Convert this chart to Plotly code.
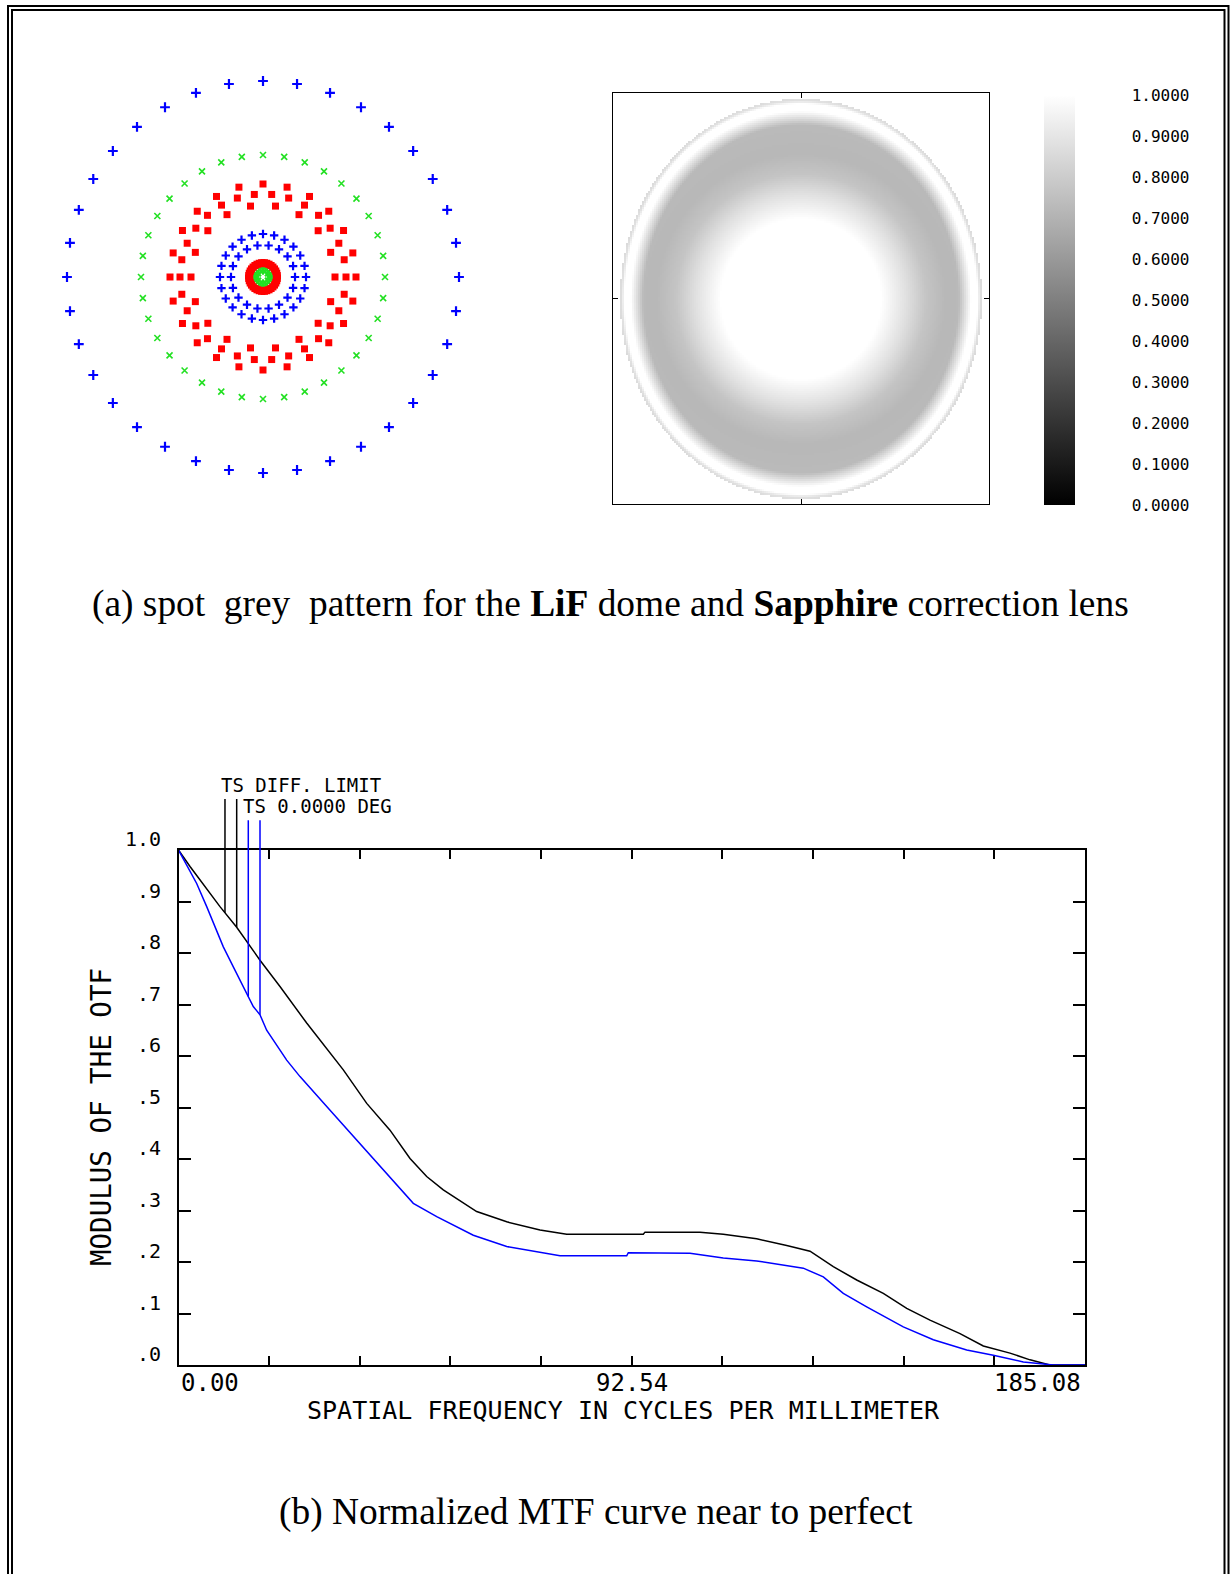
import numpy as np
import plotly.graph_objects as go

W, H = 1230, 1574


def px(x):
    return x / W


def py(y):
    return 1 - y / H


# ---------------- MTF data ----------------
freq_diff = [0, 2.35, 8.47, 11.88, 16.64, 20.72, 26.17, 31.54, 33.65, 38.43, 43.18, 47.27,
             50.67, 54.06, 60.88, 67.01, 73.81, 79.26, 94.90, 95.25, 106.47, 111.23, 118.05,
             124.18, 128.94, 133.69, 138.47, 143.90, 148.68, 153.43, 159.56, 164.32, 169.77,
             173.85, 177.9, 185.08]
mtf_diff = [1.0, 0.968, 0.890, 0.850, 0.786, 0.735, 0.664, 0.598, 0.573, 0.508, 0.456, 0.401,
            0.366, 0.340, 0.298, 0.278, 0.262, 0.254, 0.254, 0.258, 0.258, 0.254, 0.245,
            0.232, 0.221, 0.191, 0.165, 0.139, 0.110, 0.087, 0.061, 0.037, 0.023,
            0.010, 0.0, 0.0]

freq_ts0 = [0, 3.71, 5.76, 9.15, 11.19, 13.92, 15.27, 16.64, 18.0, 22.09, 24.81, 30.26, 37.06,
            43.18, 47.94, 52.72, 60.19, 67.01, 73.81, 77.89, 91.51, 91.84, 104.43, 111.23,
            118.05, 123.48, 127.57, 131.65, 135.73, 140.51, 147.98, 154.11, 160.93, 166.36,
            172.49, 178.6, 185.08]
mtf_ts0 = [1.0, 0.935, 0.890, 0.812, 0.773, 0.722, 0.696, 0.680, 0.650, 0.592, 0.560, 0.502, 0.430,
           0.366, 0.314, 0.288, 0.252, 0.230, 0.219, 0.212, 0.212, 0.218, 0.217, 0.208,
           0.202, 0.194, 0.188, 0.171, 0.139, 0.113, 0.074, 0.049, 0.029, 0.019,
           0.006, 0.0, 0.0]

x_label_values = [0.0, 92.54, 185.08]
x_label_text = ["0.00", "92.54", "185.08"]
y_tick_values = [0.0, 0.1, 0.2, 0.3, 0.4, 0.5, 0.6, 0.7, 0.8, 0.9, 1.0]
y_tick_text = [".0", ".1", ".2", ".3", ".4", ".5", ".6", ".7", ".8", ".9", "1.0"]
legend_labels = ["TS DIFF. LIMIT", "TS 0.0000 DEG"]
legend_freq_diff = [9.49, 11.88]
legend_freq_ts0 = [14.25, 16.64]

# ---------------- spot diagram rings ----------------
blue_outer_radius = [196]
blue_outer_count = [36]
blue_inner_radius = [43, 32]
blue_inner_count = [24, 18]
green_ring_radius = [122]
green_ring_count = [36]
green_core_radius = [8, 5.5]
green_core_count = [16, 10]
red_ring_radius = [93, 83, 72]
red_ring_count = [24, 30, 18]
red_core_radius = [15.5, 12.5]
red_core_count = [40, 32]

# ---------------- grey pattern profile ----------------
inner_dist = [0, 80, 105, 125, 145, 175, 200]
inner_value = [1.0, 1.0, 0.88, 0.77, 0.72, 0.73, 0.75]
rim_radius = [0.0, 0.87, 0.94, 0.975, 0.99, 1.0]
rim_weight = [0.0, 0.0, 1.0, 1.0, 0.55, 0.45]
pattern_semi_x, pattern_semi_y = 181, 200

colorbar_values = [0.0, 0.1, 0.2, 0.3, 0.4, 0.5, 0.6, 0.7, 0.8, 0.9, 1.0]
colorbar_text = ["0.0000", "0.1000", "0.2000", "0.3000", "0.4000", "0.5000",
                 "0.6000", "0.7000", "0.8000", "0.9000", "1.0000"]


def ring_points(radii, counts):
    xs, ys = [], []
    for r, n in zip(radii, counts):
        a = np.arange(n) * 2 * np.pi / n
        xs.extend(r * np.cos(a))
        ys.extend(r * np.sin(a))
    return xs, ys


MONO = "DejaVu Sans Mono"
fig = go.Figure()

# spot diagram
box_, boy_ = ring_points(blue_outer_radius, blue_outer_count)
fig.add_trace(go.Scatter(x=box_, y=boy_, mode="markers", xaxis="x", yaxis="y",
                         marker=dict(symbol="cross-thin", size=7, line=dict(width=2.2, color="#0000ff"))))
bix, biy = ring_points(blue_inner_radius, blue_inner_count)
fig.add_trace(go.Scatter(x=bix, y=biy, mode="markers", xaxis="x", yaxis="y",
                         marker=dict(symbol="cross-thin", size=6, line=dict(width=2.2, color="#0000ff"))))
gx_, gy_ = ring_points(green_ring_radius, green_ring_count)
fig.add_trace(go.Scatter(x=gx_, y=gy_, mode="markers", xaxis="x", yaxis="y",
                         marker=dict(symbol="x-thin", size=6, line=dict(width=1.6, color="#22e022"))))
gcx, gcy = ring_points(green_core_radius, green_core_count)
fig.add_trace(go.Scatter(x=gcx, y=gcy, mode="markers", xaxis="x", yaxis="y",
                         marker=dict(symbol="x-thin", size=5, line=dict(width=2, color="#22e022"))))
rx, ry = ring_points(red_ring_radius, red_ring_count)
fig.add_trace(go.Scatter(x=rx, y=ry, mode="markers", xaxis="x", yaxis="y",
                         marker=dict(symbol="square", size=7, color="#ff0000", line=dict(width=0))))
rcx, rcy = ring_points(red_core_radius, red_core_count)
fig.add_trace(go.Scatter(x=rcx, y=rcy, mode="markers", xaxis="x", yaxis="y",
                         marker=dict(symbol="square", size=5, color="#ff0000", line=dict(width=0))))

# grey pattern heatmap
gxs = np.arange(-188, 189, 2.0)
gys = np.arange(-205, 206, 2.0)
GX, GY = np.meshgrid(gxs, gys)
dist = np.sqrt(GX ** 2 + GY ** 2)
rell = np.sqrt((GX / pattern_semi_x) ** 2 + (GY / pattern_semi_y) ** 2)
vin = np.interp(dist, inner_dist, inner_value)
wr = np.interp(rell, rim_radius, rim_weight)
Z = vin * (1 - wr) + wr
Z[rell > 1.0] = np.nan
fig.add_trace(go.Heatmap(
    x=gxs, y=gys, z=Z, xaxis="x2", yaxis="y2", zmin=0, zmax=1, zsmooth=False,
    colorscale=[[0, "#000000"], [1, "#ffffff"]], hoverinfo="skip",
    colorbar=dict(x=px(1044), xanchor="left", y=py(300), yanchor="middle",
                  len=410, lenmode="pixels", thickness=31, thicknessmode="pixels",
                  tickvals=colorbar_values, ticktext=colorbar_text, ticks="outside",
                  ticklen=54, tickcolor="rgba(0,0,0,0)", outlinewidth=0, xpad=0, ypad=0,
                  tickfont=dict(family=MONO, size=16, color="#000000"))))

# MTF curves
fig.add_trace(go.Scatter(x=freq_diff, y=mtf_diff, mode="lines", xaxis="x3", yaxis="y3",
                         line=dict(color="#000000", width=1.5)))
fig.add_trace(go.Scatter(x=freq_ts0, y=mtf_ts0, mode="lines", xaxis="x3", yaxis="y3",
                         line=dict(color="#0000ff", width=1.5)))

# legend leader lines (separate taller overlay subplot with identical scale)
y4_top = (1365 - 780) / 515
for f in legend_freq_diff:
    fig.add_trace(go.Scatter(x=[f, f], y=[float(np.interp(f, freq_diff, mtf_diff)), 1.099],
                             mode="lines", xaxis="x4", yaxis="y4",
                             line=dict(color="#000000", width=1.5)))
for f in legend_freq_ts0:
    fig.add_trace(go.Scatter(x=[f, f], y=[float(np.interp(f, freq_ts0, mtf_ts0)), 1.058],
                             mode="lines", xaxis="x4", yaxis="y4",
                             line=dict(color="#0000ff", width=1.5)))

annotations = []
annotations.append(dict(x=px(219), y=py(785), xref="paper", yref="paper", xanchor="left",
                        yanchor="middle", text=legend_labels[0], showarrow=False,
                        font=dict(family=MONO, size=19, color="#000000")))
annotations.append(dict(x=px(241), y=py(806), xref="paper", yref="paper", xanchor="left",
                        yanchor="middle", text=legend_labels[1], showarrow=False,
                        font=dict(family=MONO, size=19, color="#000000")))
for v, t in zip(y_tick_values, y_tick_text):
    annotations.append(dict(x=px(163), y=v, xref="paper", yref="y3", xanchor="right",
                            yanchor="middle", yshift=11, text=t, showarrow=False,
                            font=dict(family=MONO, size=20, color="#000000")))
anchors = ["left", "center", "right"]
shifts = [0, 0, -2]
for v, t, a, s in zip(x_label_values, x_label_text, anchors, shifts):
    annotations.append(dict(x=v, y=py(1383), xref="x3", yref="paper", xanchor=a, xshift=s,
                            yanchor="middle", text=t, showarrow=False,
                            font=dict(family=MONO, size=24, color="#000000")))
annotations.append(dict(x=px(623), y=py(1410), xref="paper", yref="paper", xanchor="center",
                        yanchor="middle", text="SPATIAL FREQUENCY IN CYCLES PER MILLIMETER",
                        showarrow=False, font=dict(family=MONO, size=25, color="#000000")))
annotations.append(dict(x=px(101), y=py(1117), xref="paper", yref="paper", xanchor="center",
                        yanchor="middle", text="MODULUS OF THE OTF", textangle=-90,
                        showarrow=False, font=dict(family=MONO, size=27.5, color="#000000")))
annotations.append(dict(x=px(610), y=py(604), xref="paper", yref="paper", xanchor="center",
                        yanchor="middle",
                        text="(a) spot\u00a0 grey\u00a0 pattern for the <b>LiF</b> dome and <b>Sapphire</b> correction lens",
                        showarrow=False, font=dict(family="Liberation Serif", size=37.4, color="#000000")))
annotations.append(dict(x=px(596), y=py(1512), xref="paper", yref="paper", xanchor="center",
                        yanchor="middle", text="(b) Normalized MTF curve near to perfect",
                        showarrow=False, font=dict(family="Liberation Serif", size=37.4, color="#000000")))

shapes = [
    dict(type="rect", xref="paper", yref="paper", x0=px(8), x1=px(1228.5), y0=py(1600), y1=py(6),
         line=dict(color="#000000", width=2), fillcolor="rgba(0,0,0,0)"),
    dict(type="rect", xref="paper", yref="paper", x0=px(12), x1=px(1224.5), y0=py(1600), y1=py(10),
         line=dict(color="#000000", width=2), fillcolor="rgba(0,0,0,0)"),
]

hidden = dict(visible=False, showgrid=False, zeroline=False)
fig.update_layout(
    width=W, height=H, autosize=False, margin=dict(l=0, r=0, t=0, b=0, pad=0),
    paper_bgcolor="#ffffff", plot_bgcolor="rgba(0,0,0,0)", showlegend=False,
    annotations=annotations, shapes=shapes,
    xaxis=dict(domain=[px(50), px(476)], range=[-213, 213], anchor="y", **hidden),
    yaxis=dict(domain=[py(494), py(60)], range=[-217, 217], anchor="x", **hidden),
    xaxis2=dict(domain=[px(613.3), px(989.3)], range=[-188, 188], anchor="y2",
                showline=True, linecolor="#000000", linewidth=1, mirror="ticks",
                ticks="inside", ticklen=5, tickcolor="#000000", tickvals=[0],
                showticklabels=False, showgrid=False, zeroline=False),
    yaxis2=dict(domain=[py(503.7), py(93.3)], range=[-205.2, 205.2], anchor="x2",
                showline=True, linecolor="#000000", linewidth=1, mirror="ticks",
                ticks="inside", ticklen=5, tickcolor="#000000", tickvals=[0],
                showticklabels=False, showgrid=False, zeroline=False),
    xaxis3=dict(domain=[px(178.5), px(1085)], range=[0, 185.08], anchor="y3",
                showline=True, linecolor="#000000", linewidth=2, mirror="ticks",
                ticks="inside", ticklen=9, tickwidth=2, tickcolor="#000000",
                tick0=0, dtick=18.508, showticklabels=False, showgrid=False, zeroline=False),
    yaxis3=dict(domain=[py(1365), py(850)], range=[0, 1], anchor="x3",
                showline=True, linecolor="#000000", linewidth=2, mirror="ticks",
                ticks="inside", ticklen=12, tickwidth=2, tickcolor="#000000",
                tick0=0, dtick=0.1, showticklabels=False,
                showgrid=False, zeroline=False),
    xaxis4=dict(domain=[px(178.5), px(1085)], range=[0, 185.08], anchor="y4", **hidden),
    yaxis4=dict(domain=[py(1365), py(780)], range=[0, y4_top], anchor="x4", **hidden),
)

fig.write_html("out.html")
